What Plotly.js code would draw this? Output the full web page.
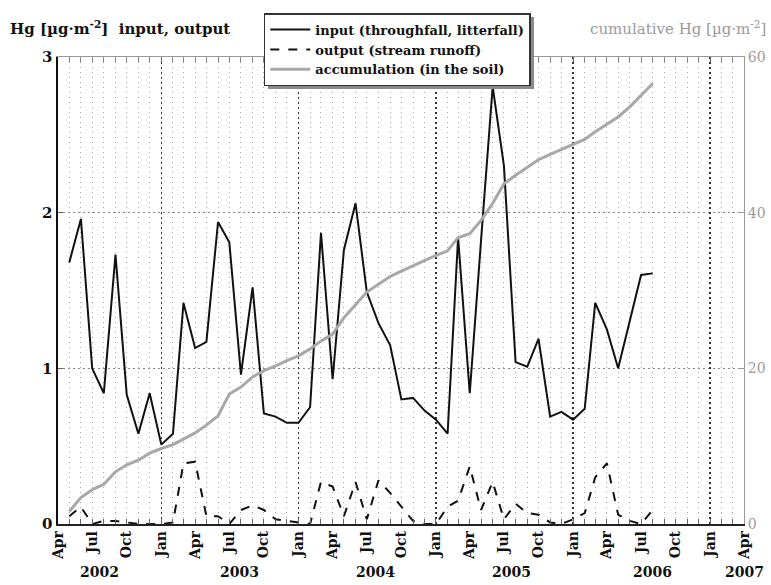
<!DOCTYPE html>
<html>
<head>
<meta charset="utf-8">
<script src="https://cdn.plot.ly/plotly-3.0.1.min.js"></script>
<style>html,body{margin:0;padding:0;background:#fff;}#chart{width:771px;height:585px;}</style>
</head>
<body>
<div id="chart"></div>
<script>
// Monthly dates (May 2002 .. Aug 2006)
const months = [
  '2002-05-01','2002-06-01','2002-07-01','2002-08-01','2002-09-01','2002-10-01','2002-11-01','2002-12-01',
  '2003-01-01','2003-02-01','2003-03-01','2003-04-01','2003-05-01','2003-06-01','2003-07-01','2003-08-01',
  '2003-09-01','2003-10-01','2003-11-01','2003-12-01',
  '2004-01-01','2004-02-01','2004-03-01','2004-04-01','2004-05-01','2004-06-01','2004-07-01','2004-08-01',
  '2004-09-01','2004-10-01','2004-11-01','2004-12-01',
  '2005-01-01','2005-02-01','2005-03-01','2005-04-01','2005-05-01','2005-06-01','2005-07-01','2005-08-01',
  '2005-09-01','2005-10-01','2005-11-01','2005-12-01',
  '2006-01-01','2006-02-01','2006-03-01','2006-04-01','2006-05-01','2006-06-01','2006-07-01','2006-08-01'
];
// input (throughfall, litterfall) [µg·m-2]
const inputHg = [
  1.68, 1.96, 1.00, 0.84, 1.73, 0.83, 0.58, 0.84,
  0.51, 0.58, 1.42, 1.13, 1.17, 1.94, 1.81, 0.96, 1.52, 0.71, 0.69, 0.65,
  0.65, 0.75, 1.87, 0.93, 1.76, 2.06, 1.49, 1.29, 1.15, 0.80, 0.81, 0.73,
  0.67, 0.58, 1.84, 0.84, 1.82, 2.81, 2.30, 1.04, 1.01, 1.19, 0.69, 0.72,
  0.67, 0.74, 1.42, 1.25, 1.00, 1.30, 1.60, 1.61
];
// output (stream runoff)
const outputHg = [
  0.05, 0.11, 0.00, 0.02, 0.02, 0.01, 0.00, 0.00,
  0.00, 0.01, 0.39, 0.40, 0.05, 0.05, 0.00, 0.09, 0.12, 0.09, 0.03, 0.02,
  0.01, 0.00, 0.27, 0.24, 0.05, 0.27, 0.03, 0.28, 0.20, 0.11, 0.02, 0.00,
  0.00, 0.11, 0.15, 0.37, 0.09, 0.27, 0.03, 0.13, 0.07, 0.06, 0.01, 0.00,
  0.03, 0.07, 0.30, 0.39, 0.06, 0.02, 0.00, 0.09
];
// accumulation (in the soil), cumulative
const accumHg = [
  1.6, 3.4, 4.4, 5.1, 6.7, 7.6, 8.2, 9.1,
  9.7, 10.2, 10.9, 11.7, 12.7, 13.9, 16.7, 17.6, 18.9, 19.7, 20.3, 21.0,
  21.6, 22.5, 23.5, 24.4, 26.5, 28.2, 29.8, 30.8, 31.8, 32.5, 33.2, 33.9,
  34.5, 35.1, 36.8, 37.3, 39.0, 41.2, 43.7, 44.8, 45.8, 46.8, 47.5, 48.1,
  48.7, 49.4, 50.4, 51.4, 52.3, 53.6, 55.1, 56.6
];
const yearLabels = ['2002','2003','2004','2005','2006','2007'];
const yearLabelDates = ['2002-07-21','2003-07-28','2004-07-25','2005-07-22','2006-08-01','2007-04-01'];
const leftTicks = [0, 1, 2, 3];
const rightTicks = [0, 20, 40, 60];

const F = '"DejaVu Serif", "Liberation Serif", serif';

const traces = [
  {x: months, y: inputHg, type: 'scatter', mode: 'lines', name: '<b>input (throughfall, litterfall)</b>',
   line: {color: '#111', width: 2}},
  {x: months, y: outputHg, type: 'scatter', mode: 'lines', name: '<b>output (stream runoff)</b>',
   line: {color: '#111', width: 2, dash: 'dash'}},
  {x: months, y: accumHg, type: 'scatter', mode: 'lines', name: '<b>accumulation (in the soil)</b>',
   line: {color: '#a8a8a8', width: 3}, yaxis: 'y2'}
];

const annotations = yearLabels.map((t, i) => ({
  text: '<b>' + t + '</b>', x: yearLabelDates[i], xref: 'x', y: 0, yref: 'paper',
  yshift: -48, showarrow: false, font: {family: F, size: 14, color: '#111'}, xanchor: 'center', yanchor: 'middle'
}));
annotations.push({
  text: '<b>Hg [µg·m<sup>-2</sup>]&nbsp;&nbsp;input, output</b>', xref: 'paper', yref: 'paper',
  x: -0.073, y: 1.062, xanchor: 'left', yanchor: 'middle', showarrow: false,
  font: {family: F, size: 15, color: '#111'}
});
annotations.push({
  text: 'cumulative Hg [µg·m<sup>-2</sup>]', xref: 'paper', yref: 'paper',
  x: 1.035, y: 1.062, xanchor: 'right', yanchor: 'middle', showarrow: false,
  font: {family: F, size: 15, color: '#9a9a9a'}
});

const layout = {
  width: 771, height: 585,
  margin: {l: 58, r: 27, t: 57, b: 61},
  paper_bgcolor: '#fff', plot_bgcolor: '#fff',
  showlegend: true,
  legend: {x: 0.30, y: 1.094, xanchor: 'left', yanchor: 'top', bgcolor: '#fff',
           bordercolor: '#333', borderwidth: 1.5, font: {family: F, size: 13, color: '#111'},
           tracegroupgap: 0, itemwidth: 40},
  xaxis: {
    type: 'date', range: ['2002-04-01', '2007-04-01'],
    tick0: '2002-04-01', dtick: 'M3', tickformat: '%b', tickangle: -90,
    tickfont: {family: F, size: 14, color: '#111', weight: 'bold'},
    ticks: 'inside', ticklen: 5, tickcolor: '#666',
    showgrid: true, gridcolor: '#a8a8a8', griddash: '1px,4px', gridwidth: 1,
    minor: {dtick: 'M1', showgrid: true, gridcolor: '#a8a8a8', griddash: '1px,4px', gridwidth: 1,
            ticks: 'inside', ticklen: 5, tickcolor: '#666'},
    showline: true, linecolor: '#222', linewidth: 1.5,
    zeroline: false, fixedrange: true
  },
  xaxis2: {
    type: 'date', overlaying: 'x', matches: 'x', side: 'top',
    range: ['2002-04-01', '2007-04-01'],
    tick0: '2003-01-01', dtick: 'M12', showticklabels: false,
    ticks: 'inside', ticklen: 5, tickcolor: '#666',
    minor: {dtick: 'M1', ticks: 'inside', ticklen: 5, tickcolor: '#888', showgrid: false},
    showgrid: true, gridcolor: '#333', griddash: '2px,3px', gridwidth: 1.5,
    showline: true, linecolor: '#999', linewidth: 1, zeroline: false
  },
  yaxis: {
    range: [0, 3], tickvals: leftTicks, ticktext: leftTicks.map(v => '<b>' + v + '</b>'),
    tickfont: {family: F, size: 15, color: '#111'},
    showgrid: true, gridcolor: '#888', griddash: '2px,3px', gridwidth: 1,
    showline: true, linecolor: '#111', linewidth: 2.5,
    ticks: 'inside', ticklen: 5, tickcolor: '#666',
    zeroline: false, fixedrange: true
  },
  yaxis2: {
    range: [0, 60], overlaying: 'y', side: 'right', tickvals: rightTicks,
    tickfont: {family: F, size: 14, color: '#9a9a9a'},
    showgrid: false, showline: true, linecolor: '#999', linewidth: 1,
    ticks: 'inside', ticklen: 5, tickcolor: '#999', zeroline: false
  },
  annotations: annotations,
  shapes: [
    {type: 'rect', xref: 'paper', yref: 'paper', x0: 0.306, x1: 0.6939, y0: 0.9315, y1: 1.0857,
     fillcolor: '#8a8a8a', line: {width: 0}, layer: 'above'}
  ]
};

// empty trace on the overlay axis so that it renders (Jan grid lines, top ticks)
traces.push({x: [months[0]], y: [null], xaxis: 'x2', showlegend: false, hoverinfo: 'skip', mode: 'lines'});

Plotly.newPlot('chart', traces, layout, {displayModeBar: false, staticPlot: true});
</script>
</body>
</html>
